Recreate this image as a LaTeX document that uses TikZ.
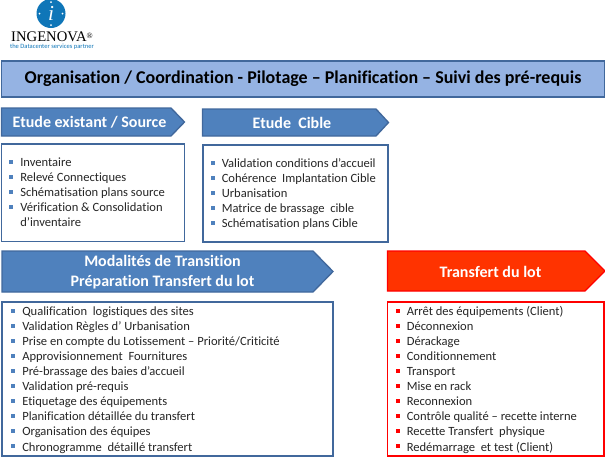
\documentclass[tikz,border=0pt]{standalone}
\usepackage{fontspec}
\setmainfont{Carlito}[Ligatures={NoCommon,TeX}]
\newfontfamily\logofont{Liberation Serif}
\definecolor{barblue}{HTML}{95B3E3}
\definecolor{headblue}{HTML}{4F81BD}
\definecolor{lineblue}{HTML}{41689C}
\definecolor{logoblue}{HTML}{0F76B8}
\definecolor{headred}{HTML}{FF3300}
\definecolor{linered}{HTML}{FF0000}
\definecolor{inktext}{HTML}{262626}
\tikzset{
    headarrow/.style={fill=headblue, draw=lineblue, line width=1pt},
    redarrow/.style={fill=headred, draw=linered, line width=1pt},
    headtext/.style={text=white, font=\bfseries\fontsize{12}{15}\selectfont, align=center, inner sep=0pt},
    listbox/.style={draw=lineblue, line width=1pt, fill=white},
    redbox/.style={draw=linered, line width=1pt, fill=white},
    itemtext/.style={anchor=base west, yshift=-3pt, text=inktext, font=\fontsize{9.42}{11}\selectfont, inner sep=0pt},
}

\begin{document}
\begin{tikzpicture}[x=0.75pt, y=-0.75pt]
\useasboundingbox (0,0) rectangle (605,462);

% Logo
\fill[logoblue] (51,13.5) circle (14.5);
\foreach \a in {0,90,180,270} {
    \fill[white] (51,13.5) ++(\a:11.5) circle (1);
}
\node[text=white, font=\logofont\itshape\fontsize{16}{16}\selectfont, inner sep=0pt] (logoi) at (51,13.5) {i};
\node[font=\logofont\fontsize{11}{11}\selectfont, inner sep=0pt] (logoname) at (52,36.5) {INGENOVA\raisebox{2pt}{\fontsize{6}{6}\selectfont ®}};
\node[text=logoblue, font=\fontsize{4.9}{6}\selectfont, inner sep=0pt] (logotag) at (52,47) {the Datacenter services partner};

% Top bar
\node[draw=lineblue, line width=1pt, fill=barblue, minimum width=452.6pt, minimum height=27pt, inner sep=0pt,
    font=\bfseries\fontsize{13.5}{15}\selectfont, text=black] (topbar) at (303,79) {Organisation / Coordination - Pilotage – Planification – Suivi des pré-requis};

% Arrows
\foreach \xa/\xb/\xc/\ya/\yb in {1.5/171/184.5/108/136, 202.5/376/388.5/109/136, 2/313/333/251/292} {
    \draw[headarrow] (\xa,\ya) -- (\xb,\ya) -- (\xc,{(\ya+\yb)/2}) -- (\xb,\yb) -- (\xa,\yb) -- cycle;
}
\draw[redarrow] (387.5,251) -- (585,251) -- (605,271) -- (585,291) -- (387.5,291) -- cycle;

\node[headtext] (existant) at (89.5,122.5) {Etude existant / Source};
\node[headtext] (cible) at (292,123) {Etude~~Cible};
\node[headtext] (modalites) at (162.5,272) {Modalités de Transition\\Préparation Transfert du lot};
\node[headtext] (transfert) at (490.5,271.5) {Transfert du lot};

% Boxes
\path[listbox] (1.5,144) rectangle (184.5,241.5);
\path[listbox] (203,145) rectangle (388,242);
\path[listbox] (2,302) rectangle (333,456);
\path[redbox] (387.5,302) rectangle (604,456);

% Source list
\foreach \y/\txt in {162.5/Inventaire, 177.5/Relevé Connectiques, 192.5/Schématisation plans source, 207.5/Vérification \& Consolidation} {
    \fill[headblue] (9,{\y-3}) rectangle (13,{\y+1});
    \node[itemtext] at (20,\y) {\txt};
}
\node[itemtext] (suite) at (20,222.5) {d’inventaire};

% Cible list
\foreach \y/\txt in {163.5/Validation conditions d’accueil, 178.5/Cohérence~ Implantation Cible, 193.5/Urbanisation, 208.5/Matrice de brassage~ cible, 223.5/Schématisation plans Cible} {
    \fill[headblue] (210.5,{\y-3}) rectangle (214.5,{\y+1});
    \node[itemtext] at (221.5,\y) {\txt};
}

% Preparation list
\foreach \y/\txt in {311.5/Qualification~ logistiques des sites, 326.5/Validation Règles d’ Urbanisation, 341.5/{Prise en compte du Lotissement – Priorité/Criticité}, 356.5/Approvisionnement~ Fournitures, 371.5/Pré-brassage des baies d’accueil, 386.5/Validation pré-requis, 401.5/Etiquetage des équipements, 416.5/Planification détaillée du transfert, 431.5/Organisation des équipes, 447/Chronogramme~ détaillé transfert} {
    \fill[headblue] (10.5,{\y-3}) rectangle (14.5,{\y+1});
    \node[itemtext] at (22,\y) {\txt};
}

% Transfert list
\foreach \y/\txt in {311.5/Arrêt des équipements (Client), 326.5/Déconnexion, 341.5/Dérackage, 356.5/Conditionnement, 371.5/Transport, 386.5/Mise en rack, 401.5/Reconnexion, 416.5/Contrôle qualité – recette interne, 431.5/Recette Transfert~ physique, 447/Redémarrage~ et test (Client)} {
    \fill[linered] (395.5,{\y-3}) rectangle (399.5,{\y+1});
    \node[itemtext] at (406.5,\y) {\txt};
}

\end{tikzpicture}
\end{document}
